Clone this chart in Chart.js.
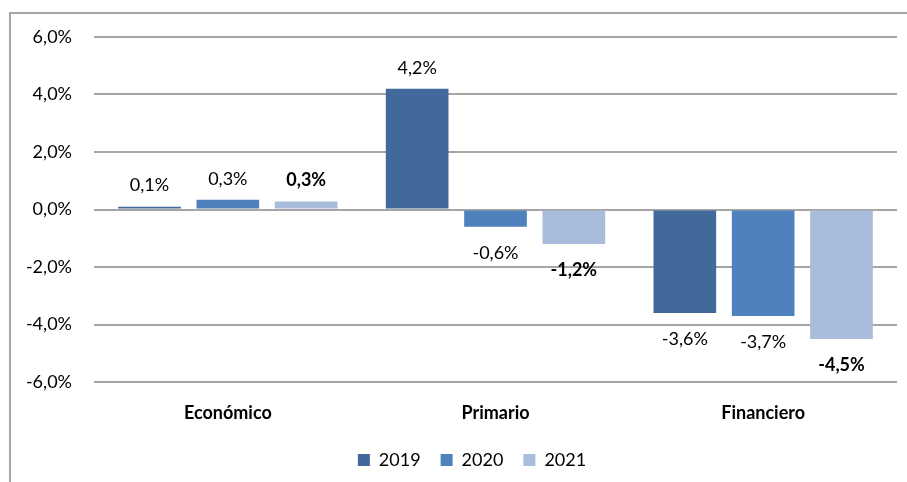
<!DOCTYPE html>
<html lang="es">
<head>
<meta charset="UTF-8">
<title>Balance por año</title>
<script src="https://cdn.jsdelivr.net/npm/chart.js"></script>
<style>
  html, body { margin: 0; padding: 0; background: #fff; overflow: hidden; }
  #frame { position: absolute; left: 9px; top: 12px; width: 1000px; height: 1000px; border: 2px solid #a6a6a6; }
  #chart { position: absolute; left: 0; top: 0; }
</style>
</head>
<body>
<div id="frame"></div>
<canvas id="chart" width="907" height="482"></canvas>
<script>
// categorías y series
const categorias = ['Económico', 'Primario', 'Financiero'];
const anios = ['2019', '2020', '2021'];
const valores2019 = [0.1, 4.2, -3.6];
const valores2020 = [0.34, -0.6, -3.7];
const valores2021 = [0.28, -1.2, -4.5];
const colores = ['#41699b', '#4f81bd', '#a9bcdc'];
const etiquetasNegrita = [false, false, true];

const fmt = v => v.toFixed(1).replace('.', ',') + '%';
const fuente = 'Lato, "Open Sans", sans-serif';

// etiquetas de datos encima / debajo de cada barra
const etiquetas = {
  id: 'etiquetas',
  afterLayout(chart) {
    // correr la leyenda un poco a la derecha, como en el original
    chart.legend.left = 47;
  },
  afterDatasetsDraw(chart) {
    const ctx = chart.ctx;
    ctx.save();
    ctx.textAlign = 'center';
    ctx.textBaseline = 'middle';
    ctx.fillStyle = '#000';
    chart.data.datasets.forEach((ds, i) => {
      ctx.font = (etiquetasNegrita[i] ? 'bold ' : '') + '18px ' + fuente;
      chart.getDatasetMeta(i).data.forEach((bar, j) => {
        const v = ds.data[j];
        const y = v >= 0 ? bar.y - 21 : bar.y + 26;
        ctx.fillText(fmt(v), bar.x, y);
      });
    });
    ctx.restore();
  }
};

const series = [valores2019, valores2020, valores2021];

new Chart(document.getElementById('chart'), {
  type: 'bar',
  data: {
    labels: categorias,
    datasets: series.map((d, i) => ({
      label: anios[i],
      data: d,
      backgroundColor: colores[i],
      borderWidth: 0,
      barPercentage: 0.8,
      categoryPercentage: 0.878
    }))
  },
  options: {
    responsive: false,
    animation: false,
    layout: { padding: { left: 0, right: 10, top: 37, bottom: 3 } },
    plugins: {
      tooltip: { enabled: false },
      legend: {
        position: 'bottom',
        labels: {
          boxWidth: 12,
          boxHeight: 12,
          padding: 20,
          color: '#000',
          font: { family: fuente, size: 18 }
        }
      }
    },
    scales: {
      x: {
        grid: { display: false },
        border: { display: false },
        ticks: { color: '#000', padding: 12, font: { family: fuente, size: 18, weight: 'bold' } },
        afterFit: s => { s.height = 49; }
      },
      y: {
        min: -6,
        max: 6,
        grid: { color: '#a6a6a6', lineWidth: 2, drawTicks: false },
        border: { display: false },
        ticks: { stepSize: 2, color: '#000', padding: 22, font: { family: fuente, size: 18 }, callback: v => fmt(v) },
        afterFit: s => { s.width = 94; }
      }
    }
  },
  plugins: [etiquetas]
});
</script>
</body>
</html>
